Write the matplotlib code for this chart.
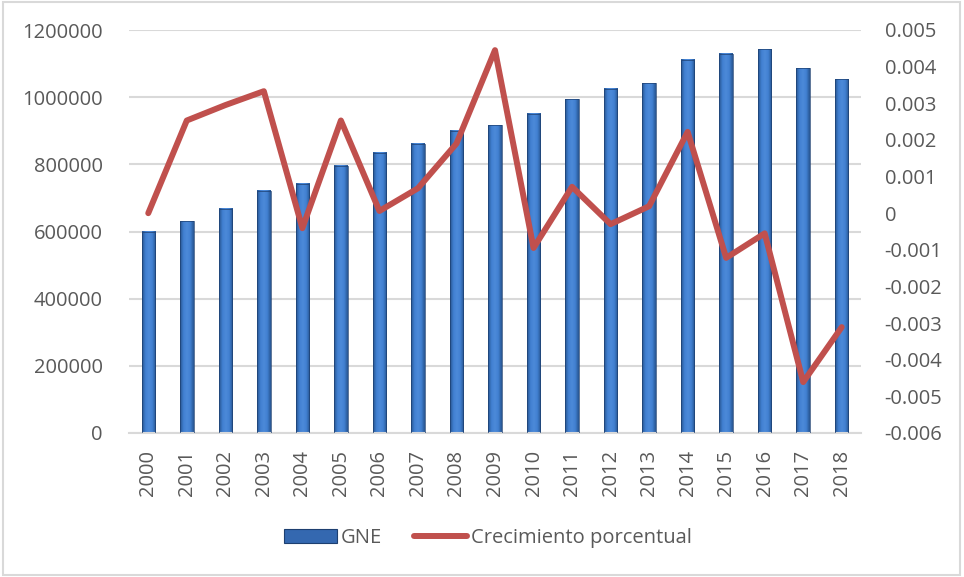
import numpy as np
import matplotlib.pyplot as plt
from matplotlib.colors import LinearSegmentedColormap
from matplotlib.patches import Rectangle
from matplotlib.lines import Line2D

# ------------------------------------------------------------
# Datos
# ------------------------------------------------------------
years = ["2000", "2001", "2002", "2003", "2004", "2005", "2006", "2007", "2008", "2009",
         "2010", "2011", "2012", "2013", "2014", "2015", "2016", "2017", "2018"]
gne = [600000, 631000, 668000, 721000, 742000, 796000, 834000, 861000, 900000, 917000,
       950000, 994000, 1025000, 1042000, 1111000, 1129000, 1143000, 1086000, 1054000]
crecimiento = [0.0, 0.00253, 0.00295, 0.00333, -0.00041, 0.00253, 0.00006, 0.00068, 0.0019,
               0.00445, -0.00095, 0.00072, -0.0003, 0.00019, 0.00222, -0.00122, -0.00055,
               -0.00461, -0.00311]

left_ticks = [0, 200000, 400000, 600000, 800000, 1000000, 1200000]
right_ticks = [round(-0.006 + 0.001 * i, 3) for i in range(12)]

TXT = "#595959"
BAR_DARK = "#27548f"
BAR_MID = "#4180d2"
LINE_COLOR = "#c0504d"

plt.rcParams["font.family"] = ["Open Sans", "DejaVu Sans"]
plt.rcParams["font.size"] = 14.5

fig = plt.figure(figsize=(9.64, 5.77), dpi=100)
ax = fig.add_axes([129 / 964, 1 - 433 / 577, (861 - 129) / 964, (433 - 30) / 577])
ax2 = ax.twinx()

x = np.arange(len(years))
width = 0.35
cmap = LinearSegmentedColormap.from_list("bev", [BAR_DARK, BAR_MID, "#4d8ad9", BAR_MID, BAR_DARK])
grad = np.linspace(0, 1, 64).reshape(1, -1)

for xi, h in zip(x, gne):
    ax.imshow(grad, extent=[xi - width / 2, xi + width / 2, 0, h], aspect="auto",
              cmap=cmap, zorder=2, interpolation="bicubic")
    ax.add_patch(Rectangle((xi - width / 2, 0), width, h, fill=False,
                           edgecolor="#1d3f70", linewidth=0.5, zorder=3))

ax.set_xlim(-0.5, len(years) - 0.5)
ax.set_ylim(0, 1200000)
ax.set_yticks(left_ticks)
ax.set_yticklabels([str(v) for v in left_ticks])
ax.set_xticks(x)
ax.set_xticklabels(years, rotation=90)
ax.yaxis.grid(True, color="#d9d9d9", linewidth=1.5, zorder=0)
ax.set_axisbelow(True)
ax.tick_params(axis="y", length=0, pad=19, colors=TXT)
ax.tick_params(axis="x", length=0, pad=12, colors=TXT)
for s in ["top", "left", "right"]:
    ax.spines[s].set_visible(False)
ax.spines["bottom"].set_color("#d9d9d9")
ax.spines["bottom"].set_linewidth(1.5)

ax2.plot(x, crecimiento, color=LINE_COLOR, linewidth=4.3, solid_capstyle="round",
         solid_joinstyle="round", zorder=4)
ax2.set_ylim(-0.006, 0.005)
ax2.set_yticks(right_ticks)
ax2.set_yticklabels(["0" if v == 0 else f"{v:g}" for v in right_ticks])
ax2.tick_params(axis="y", length=0, pad=17, colors=TXT)
for s in ["top", "left", "right", "bottom"]:
    ax2.spines[s].set_visible(False)

handles = [Rectangle((0, 0), 1, 1, facecolor="#3468b0", edgecolor="#1d3f70", linewidth=0.8),
           Line2D([0], [0], color=LINE_COLOR, linewidth=4.3, solid_capstyle="round")]
leg = fig.legend(handles, ["GNE", "Crecimiento porcentual"], loc="center",
                 bbox_to_anchor=(488 / 964, 1 - 538 / 577), ncol=2, frameon=False,
                 handlelength=2.6, handleheight=0.65, handletextpad=0.2, columnspacing=1.6)
for t in leg.get_texts():
    t.set_color(TXT)

fig.patches.append(Rectangle((3 / 964, 2 / 577), 957 / 964, 573 / 577, fill=False,
                             edgecolor="#d9d9d9", linewidth=1.5, transform=fig.transFigure))

fig.savefig("out.png", dpi=100)
